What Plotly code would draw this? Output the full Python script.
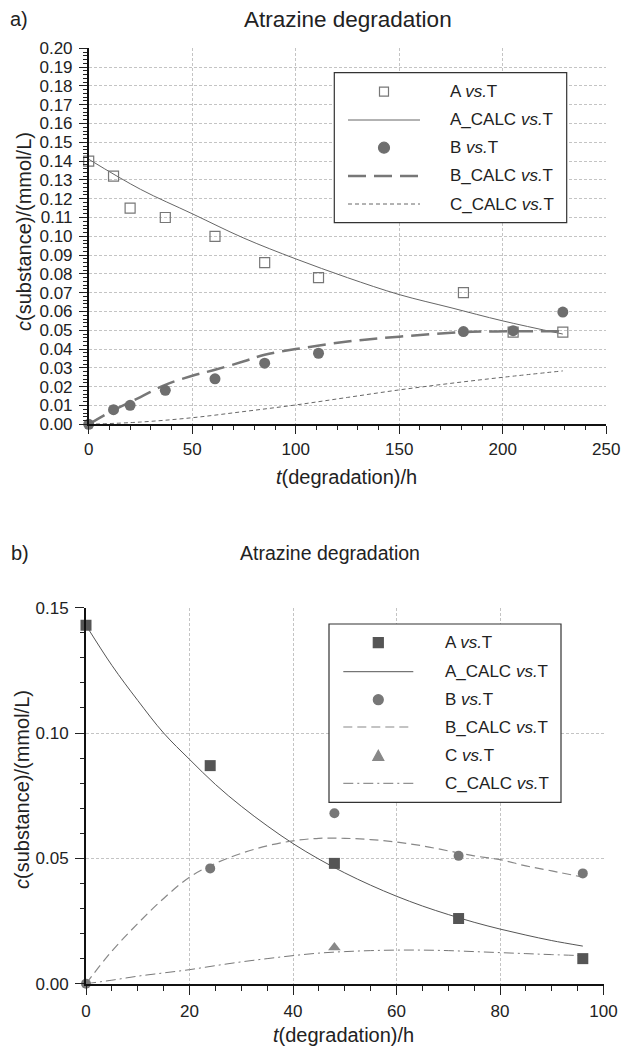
import plotly.graph_objects as go

W, H = 622, 1049


def px(x):
    return x / W


def py(y):
    return 1 - y / H


FONT = "Liberation Sans, Arial, sans-serif"

# ---------------- panel a) data ----------------
t_a = [0, 12, 20, 37, 61, 85, 111, 181, 205, 229]
A_a = [0.140, 0.132, 0.115, 0.110, 0.100, 0.086, 0.078, 0.070, 0.049, 0.049]
B_a = [0.000, 0.0078, 0.0101, 0.0181, 0.0242, 0.0325, 0.0378, 0.0493, 0.0498, 0.0597]

t_Acalc_a = [0, 25, 50, 75, 100, 125, 150, 175, 200, 229]
Acalc_a = [0.141, 0.125, 0.112, 0.099, 0.088, 0.078, 0.069, 0.062, 0.055, 0.048]
t_Bcalc_a = [0, 12, 25, 37, 50, 61, 75, 85, 100, 125, 150, 181, 205, 229]
Bcalc_a = [0.0, 0.0075, 0.0145, 0.021, 0.0258, 0.029, 0.0335, 0.037, 0.040, 0.044, 0.0466, 0.049, 0.0495, 0.0495]
t_Ccalc_a = [0, 25, 50, 75, 100, 125, 150, 175, 200, 229]
Ccalc_a = [0.0, 0.0012, 0.0035, 0.0068, 0.0103, 0.0143, 0.0183, 0.0218, 0.025, 0.0284]

# ---------------- panel b) data ----------------
t_b = [0, 24, 48, 72, 96]
A_b = [0.143, 0.087, 0.048, 0.026, 0.010]
B_b = [0.0, 0.046, 0.068, 0.051, 0.044]
t_C_b = [48]
C_b = [0.0144]

t_calc_b = [0, 5, 10, 15, 20, 25, 30, 35, 40, 45, 50, 55, 60, 65, 70, 75, 80, 85, 90, 96]
Acalc_b = [0.143, 0.127, 0.113, 0.100, 0.0895, 0.0795, 0.0708, 0.063, 0.0559, 0.0497, 0.0442,
           0.0393, 0.0349, 0.031, 0.0276, 0.0245, 0.0218, 0.0194, 0.0172, 0.015]
Bcalc_b = [0.0, 0.013, 0.024, 0.034, 0.0425, 0.048, 0.052, 0.055, 0.057, 0.058, 0.058,
           0.0575, 0.0565, 0.055, 0.053, 0.051, 0.0495, 0.047, 0.045, 0.0425]
Ccalc_b = [0.0, 0.0014, 0.003, 0.0043, 0.0056, 0.0072, 0.0087, 0.0100, 0.0112, 0.0122, 0.0128,
           0.0132, 0.0134, 0.0134, 0.0132, 0.0128, 0.0124, 0.012, 0.0116, 0.0112]

title_text = "Atrazine degradation"
x_title = "<i>t</i>(degradation)/h"
y_title = "<i>c</i>(substance)/(mmol/L)"

legend_a = ["A <i>vs.</i>T", "A_CALC <i>vs.</i>T", "B <i>vs.</i>T", "B_CALC <i>vs.</i>T", "C_CALC <i>vs.</i>T"]
legend_b = ["A <i>vs.</i>T", "A_CALC <i>vs.</i>T", "B <i>vs.</i>T", "B_CALC <i>vs.</i>T",
            "C <i>vs.</i>T", "C_CALC <i>vs.</i>T"]

fig = go.Figure()

# panel a traces
fig.add_trace(go.Scatter(x=t_Acalc_a, y=Acalc_a, mode="lines", line=dict(color="#666", width=1, shape="spline"),
                         xaxis="x", yaxis="y", showlegend=False))
fig.add_trace(go.Scatter(x=t_Bcalc_a, y=Bcalc_a, mode="lines",
                         line=dict(color="#777", width=2.5, dash="18px,8px", shape="spline"),
                         xaxis="x", yaxis="y", showlegend=False))
fig.add_trace(go.Scatter(x=t_Ccalc_a, y=Ccalc_a, mode="lines",
                         line=dict(color="#666", width=1, dash="4px,3px", shape="spline"),
                         xaxis="x", yaxis="y", showlegend=False))
fig.add_trace(go.Scatter(x=t_a, y=A_a, mode="markers",
                         marker=dict(symbol="square-open", size=10, color="#777", line=dict(width=1.2, color="#777")),
                         xaxis="x", yaxis="y", cliponaxis=False, showlegend=False))
fig.add_trace(go.Scatter(x=t_a, y=B_a, mode="markers",
                         marker=dict(symbol="circle", size=11, color="#6e6e6e"),
                         xaxis="x", yaxis="y", cliponaxis=False, showlegend=False))

# panel b traces
fig.add_trace(go.Scatter(x=t_calc_b, y=Acalc_b, mode="lines", line=dict(color="#555", width=1, shape="spline"),
                         xaxis="x2", yaxis="y2", showlegend=False))
fig.add_trace(go.Scatter(x=t_calc_b, y=Bcalc_b, mode="lines",
                         line=dict(color="#888", width=1.2, dash="9px,5px", shape="spline"),
                         xaxis="x2", yaxis="y2", showlegend=False))
fig.add_trace(go.Scatter(x=t_calc_b, y=Ccalc_b, mode="lines",
                         line=dict(color="#777", width=1, dash="10px,4px,2px,4px", shape="spline"),
                         xaxis="x2", yaxis="y2", showlegend=False))
fig.add_trace(go.Scatter(x=t_b, y=A_b, mode="markers",
                         marker=dict(symbol="square", size=11, color="#555"),
                         xaxis="x2", yaxis="y2", cliponaxis=False, showlegend=False))
fig.add_trace(go.Scatter(x=t_C_b, y=C_b, mode="markers",
                         marker=dict(symbol="triangle-up", size=11, color="#888"),
                         xaxis="x2", yaxis="y2", cliponaxis=False, showlegend=False))
fig.add_trace(go.Scatter(x=t_b, y=B_b, mode="markers",
                         marker=dict(symbol="circle", size=10, color="#777"),
                         xaxis="x2", yaxis="y2", cliponaxis=False, showlegend=False))

TICKFONT = dict(family=FONT, size=17, color="#222")
GRID = dict(showgrid=True, gridcolor="#c4c4c4", griddash="3px,2px", gridwidth=1)


def main_axis(domain, rng, dtick, mdtick, anchor, fmt=None, lw=1.5, tlen=8, mlen=4, **kw):
    d = dict(domain=domain, range=rng, dtick=dtick, tick0=0, anchor=anchor,
             ticks="outside", ticklen=tlen, tickwidth=1, tickcolor="#222",
             minor=dict(dtick=mdtick, tick0=0, ticks="outside", ticklen=mlen, tickwidth=1,
                        tickcolor="#222", showgrid=False),
             showline=True, linecolor="#111", linewidth=lw, zeroline=False, automargin=False,
             tickfont=TICKFONT, **GRID)
    if fmt:
        d["tickformat"] = fmt
    d.update(kw)
    return d


def overlay_axis(rng, dtick, mdtick, anchor, overlaying, lw=1, color="#333", tlen=8, mlen=5, **kw):
    d = dict(range=rng, dtick=dtick, tick0=0, anchor=anchor, overlaying=overlaying,
             ticks="inside", ticklen=tlen, tickwidth=1, tickcolor="#222",
             minor=dict(dtick=mdtick, tick0=0, ticks="inside", ticklen=mlen, tickwidth=1,
                        tickcolor="#222", showgrid=False),
             showline=True, mirror="allticks", linecolor=color, linewidth=lw, automargin=False,
             showticklabels=False, showgrid=False, zeroline=False)
    d.update(kw)
    return d


xa_dom = [px(88.7), px(606.3)]
ya_dom = [py(424.3), py(48.3)]
xb_dom = [px(86), px(603.5)]
yb_dom = [py(983.7), py(607.7)]

fig.update_layout(
    width=W, height=H,
    margin=dict(l=0, r=0, t=0, b=0, pad=0, autoexpand=False),
    paper_bgcolor="white", plot_bgcolor="white",
    font=dict(family=FONT, color="#222"),
    showlegend=False,
    xaxis=main_axis(xa_dom, [0, 250], 50, 10, "y", ticklabelstandoff=1),
    yaxis=main_axis(ya_dom, [0, 0.20], 0.01, 0.002, "x", fmt=".2f", ticklabelstandoff=3),
    xaxis3=overlay_axis([0, 250], 50, 10, "y", "x"),
    yaxis3=overlay_axis([0, 0.20], 0.01, 0.002, "x", "y"),
    xaxis2=main_axis(xb_dom, [0, 100], 20, 5, "y2", lw=2, tlen=9, mlen=5, ticklabelstandoff=2),
    yaxis2=main_axis(yb_dom, [0, 0.15], 0.05, 0.01, "x2", fmt=".2f", lw=2, tlen=9, mlen=4,
                     ticklabelstandoff=3),
    xaxis4=overlay_axis([0, 100], 20, 5, "y2", "x2", color="#555", tlen=9, mlen=5),
    yaxis4=overlay_axis([0, 0.15], 0.05, 0.01, "x2", "y2", color="#555", tlen=8, mlen=6),
)

ann = []


def text(x, y, s, size, xanchor="center", **kw):
    d = dict(x=px(x), y=py(y), xref="paper", yref="paper", text=s, showarrow=False,
             xanchor=xanchor, yanchor="middle",
             font=dict(family=FONT, size=size, color="#222"))
    d.update(kw)
    ann.append(d)


# titles
text(19, 19, "a)", 20)
text(348, 19, title_text, 22.5)
text(20, 553, "b)", 20)
text(330, 553, title_text, 19.5)
# axis titles
text(346, 477, x_title, 20)
text(343, 1035, x_title, 20)
text(24, 232, y_title, 20, textangle=-90)
text(22, 790, y_title, 20, textangle=-90)

shapes = []


def box(x0, y0, x1, y1):
    shapes.append(dict(type="rect", xref="paper", yref="paper", x0=px(x0), x1=px(x1), y0=py(y0), y1=py(y1),
                       line=dict(color="#333", width=1.2), fillcolor="white", layer="above"))


def sample_line(xc, y, half, color, width, dash="solid"):
    shapes.append(dict(type="line", xref="paper", yref="paper", x0=px(xc - half), x1=px(xc + half),
                       y0=py(y), y1=py(y), line=dict(color=color, width=width, dash=dash), layer="above"))


def sample_marker(kind, xc, y, r, color, filled=True):
    base = dict(xref="paper", yref="paper", xsizemode="pixel", ysizemode="pixel",
                xanchor=px(xc), yanchor=py(y), layer="above",
                line=dict(color=color, width=1.2), fillcolor=color if filled else "white")
    if kind == "rect":
        base.update(type="rect", x0=-r, x1=r, y0=-r, y1=r)
    elif kind == "circle":
        base.update(type="circle", x0=-r, x1=r, y0=-r, y1=r)
    else:
        base.update(type="path", path=f"M {-r} {-r*0.85} L {r} {-r*0.85} L 0 {r} Z")
    shapes.append(base)


# legend a
box(334.3, 72.7, 566.7, 222.7)
rows_a = [91.7, 120, 147.7, 176, 204]
sample_marker("rect", 384, rows_a[0], 4.5, "#777", filled=False)
sample_line(384, rows_a[1], 36, "#666", 1)
sample_marker("circle", 384, rows_a[2], 5.5, "#6e6e6e")
sample_line(384, rows_a[3], 36, "#777", 2.5, "18px,8px")
sample_line(384, rows_a[4], 36, "#666", 1, "4px,3px")
for s, yy in zip(legend_a, rows_a):
    text(448, yy, s, 17, xanchor="left")

# legend b
box(329, 624, 561, 802.3)
rows_b = [642.7, 671.7, 699.7, 727, 755.7, 783.3]
sample_marker("rect", 378.3, rows_b[0], 5, "#555")
sample_line(378.3, rows_b[1], 35, "#555", 1)
sample_marker("circle", 378.3, rows_b[2], 5, "#777")
sample_line(378.3, rows_b[3], 35, "#888", 1.2, "9px,5px")
sample_marker("tri", 378.3, rows_b[4], 5.5, "#888")
sample_line(378.3, rows_b[5], 35, "#777", 1, "10px,4px,2px,4px")
for s, yy in zip(legend_b, rows_b):
    text(442.7, yy, s, 17, xanchor="left")

fig.update_layout(annotations=ann, shapes=shapes)

fig.write_html("out.html", config={"displayModeBar": False},
               post_script="document.body.style.margin='0px';")
